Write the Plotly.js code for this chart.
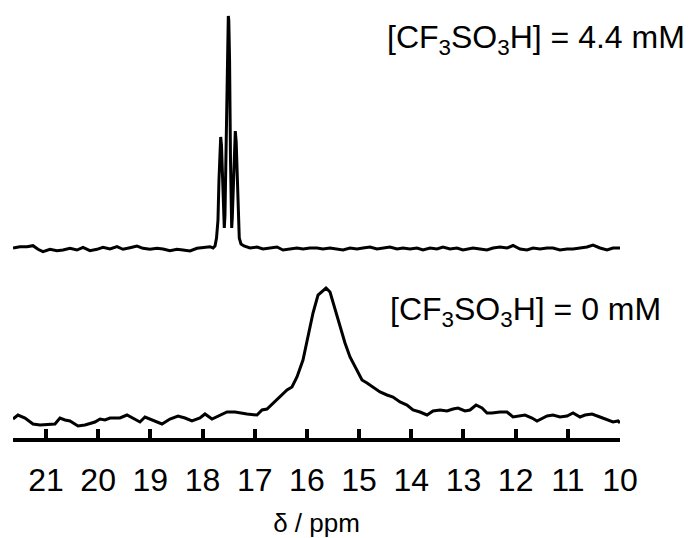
<!DOCTYPE html>
<html>
<head>
<meta charset="utf-8">
<script src="https://cdn.plot.ly/plotly-3.0.1.min.js"></script>
<style>html,body{margin:0;padding:0;background:#fff;}#chart{width:700px;height:538px;}</style>
</head>
<body>
<div id="chart"></div>
<script>
// Chemical shift (ppm) and intensity (arbitrary units) for the 4.4 mM spectrum
const ppmTop = [21.632,21.498,21.364,21.249,21.153,21.057,20.923,20.789,20.674,20.540,20.406,20.291,20.157,20.023,19.908,19.773,19.639,19.524,19.390,19.256,19.141,19.007,18.873,18.758,18.624,18.490,18.375,18.240,18.106,17.991,17.857,17.799,17.761,17.732,17.704,17.685,17.665,17.652,17.637,17.617,17.598,17.583,17.570,17.551,17.531,17.516,17.506,17.497,17.482,17.464,17.451,17.441,17.430,17.411,17.391,17.372,17.355,17.336,17.317,17.296,17.263,17.206,17.091,16.956,16.841,16.707,16.573,16.458,16.324,16.190,16.075,15.941,15.807,15.692,15.558,15.423,15.308,15.174,15.040,14.925,14.791,14.657,14.542,14.408,14.273,14.159,14.024,13.890,13.775,13.641,13.507,13.392,13.258,13.124,13.009,12.874,12.817,12.683,12.549,12.434,12.299,12.165,12.050,11.916,11.782,11.667,11.533,11.398,11.284,11.150,11.015,10.900,10.766,10.632,10.517,10.383,10.249,10.134,10.000];
const intTop = [192.5,193.8,193.8,194.8,191.2,188.8,191.2,189.8,190.5,192.2,190.5,193.2,189.8,191.2,193.2,191.5,193.8,191.2,192.8,194.5,192.2,191.2,192.2,191.5,189.8,191.2,190.5,189.5,192.2,193.2,193.8,192.5,194.5,202.5,220.5,260.5,295.5,303.5,295.5,255.5,225.5,212.5,225.5,290.5,380.5,420.5,424.5,420.5,380.5,280.5,225.5,212.5,222.5,255.5,295.5,309.5,298.5,260.5,218.5,202.5,196.5,194.5,192.5,193.5,191.5,192.5,193.5,190.5,191.5,192.5,191.5,192.5,192.5,191.5,192.5,191.5,190.5,192.5,191.5,192.5,193.5,191.5,192.5,193.5,191.5,192.5,191.5,192.5,190.5,192.5,191.5,193.5,191.5,192.5,190.5,191.5,192.5,191.5,190.5,192.5,193.5,192.5,195.0,191.5,190.5,192.5,191.5,192.5,192.5,190.5,191.5,191.5,192.5,193.5,195.5,192.5,190.5,192.5,192.5];

// Chemical shift (ppm) and intensity (arbitrary units) for the 0 mM spectrum
const ppmBottom = [21.632,21.537,21.402,21.249,21.115,20.923,20.828,20.732,20.636,20.540,20.387,20.253,20.061,19.965,19.869,19.773,19.582,19.448,19.333,19.199,19.103,18.911,18.777,18.624,18.470,18.336,18.202,18.049,17.953,17.819,17.665,17.531,17.378,17.282,17.148,16.956,16.860,16.765,16.650,16.516,16.381,16.286,16.190,16.075,15.979,15.883,15.787,15.691,15.634,15.557,15.461,15.366,15.270,15.174,15.040,14.944,14.848,14.733,14.599,14.465,14.350,14.216,14.082,13.967,13.833,13.698,13.583,13.449,13.315,13.200,13.104,12.970,12.874,12.759,12.644,12.549,12.453,12.299,12.165,12.050,11.954,11.820,11.686,11.590,11.398,11.284,11.150,11.015,10.900,10.766,10.670,10.536,10.383,10.249,10.134,10.038,10.000];
const intBottom = [21.5,25.5,22.5,16.5,15.5,16.5,16.5,22.5,20.5,19.5,14.5,15.5,18.5,21.5,20.5,22.5,22.5,25.5,22.5,18.5,23.5,19.5,16.5,21.5,24.5,22.5,19.5,22.5,26.5,21.5,25.5,28.5,28.5,27.5,26.5,25.5,30.5,31.5,37.5,43.5,50.5,53.5,63.5,80.5,103.5,127.5,145.5,149.5,152.5,148.5,130.5,113.5,97.5,83.5,70.5,60.5,57.5,53.5,48.5,45.5,43.5,38.5,35.5,30.5,28.5,25.5,29.5,30.5,29.5,31.5,32.5,29.5,30.5,35.5,32.5,27.5,27.5,28.5,28.5,23.5,24.5,25.5,22.5,19.5,24.5,25.5,23.5,24.5,27.5,23.5,25.5,26.5,23.5,20.5,18.5,19.5,17.5];

// Tick labels
const tickVals = [21,20,19,18,17,16,15,14,13,12,11,10];
const tickText = tickVals.map(String);

// Labels
const labelTop = '[CF<sub>3</sub>SO<sub>3</sub>H] = 4.4 mM';
const labelBottom = '[CF<sub>3</sub>SO<sub>3</sub>H] = 0 mM';
const xTitle = 'δ / ppm';

const FONT = 'Arial, Liberation Sans, sans-serif';

const traces = [
  {x: ppmTop, y: intTop, type: 'scatter', mode: 'lines', line: {color: '#000', width: 3}, hoverinfo: 'skip', name: '4.4 mM'},
  {x: ppmBottom, y: intBottom, type: 'scatter', mode: 'lines', line: {color: '#000', width: 3}, hoverinfo: 'skip', name: '0 mM'}
];

const layout = {
  width: 700, height: 538,
  margin: {l: 13, r: 80, t: 4, b: 100},
  paper_bgcolor: '#fff', plot_bgcolor: '#fff',
  showlegend: false,
  font: {family: FONT, color: '#000'},
  xaxis: {
    range: [21.632, 10],
    tickvals: tickVals, ticktext: tickText,
    ticks: 'inside', ticklen: 9, tickwidth: 4, tickcolor: '#000',
    showline: true, linewidth: 4, linecolor: '#000',
    showgrid: false, zeroline: false,
    tickfont: {family: FONT, size: 32, color: '#000'},
    ticklabelstandoff: 11,
    title: {text: xTitle, font: {family: FONT, size: 26, color: '#000'}, standoff: 18}
  },
  yaxis: {
    range: [2.5, 436.5],
    visible: false, showgrid: false, zeroline: false
  },
  annotations: [
    {xref: 'paper', yref: 'paper', x: 0.613, y: 0.918, xanchor: 'left', yanchor: 'middle', showarrow: false, text: labelTop, font: {family: FONT, size: 32, color: '#000'}},
    {xref: 'paper', yref: 'paper', x: 0.617, y: 0.292, xanchor: 'left', yanchor: 'middle', showarrow: false, text: labelBottom, font: {family: FONT, size: 32, color: '#000'}}
  ]
};

Plotly.newPlot('chart', traces, layout, {staticPlot: true, displayModeBar: false});
</script>
</body>
</html>
